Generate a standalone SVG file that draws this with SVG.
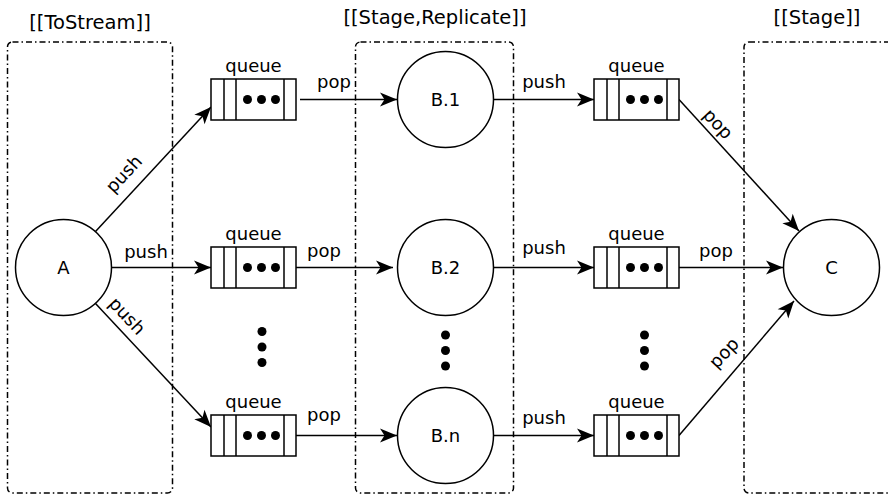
<svg xmlns="http://www.w3.org/2000/svg" width="888" height="496" viewBox="0 0 888 496">
<defs>
<style>
text{font-family:"DejaVu Sans","Liberation Sans",sans-serif;fill:#000;font-size:18px;text-anchor:middle}
.title{font-size:19.5px}
.grp{fill:none;stroke:#000;stroke-width:1.5;stroke-dasharray:6 3 1.5 3}
.node{fill:#fff;stroke:#000;stroke-width:1.5}
.q{fill:#fff;stroke:#000;stroke-width:1.5}
.edge{fill:none;stroke:#000;stroke-width:1.5;marker-end:url(#arr)}
.dot{fill:#000}
</style>
<marker id="arr" markerUnits="userSpaceOnUse" viewBox="-18 -8 19 16" refX="0" refY="0" markerWidth="19" markerHeight="16" orient="auto">
<path d="M0,0 L-17,-7 L-12.5,0 L-17,7 Z" fill="#000"/>
</marker>
<g id="queue">
<rect class="q" x="0" y="0" width="85" height="41"/>
<line x1="13" y1="0" x2="13" y2="41" stroke="#000" stroke-width="1.5"/>
<line x1="25" y1="0" x2="25" y2="41" stroke="#000" stroke-width="1.5"/>
<line x1="73" y1="0" x2="73" y2="41" stroke="#000" stroke-width="1.5"/>
<circle class="dot" cx="36.5" cy="20.5" r="4.5"/>
<circle class="dot" cx="50.5" cy="20.5" r="4.5"/>
<circle class="dot" cx="64.5" cy="20.5" r="4.5"/>
</g>
</defs>
<rect width="888" height="496" fill="#fff"/>

<g id="group-tostream">
<rect class="grp" x="7.5" y="42" width="165" height="451" rx="5"/>
<text class="title" x="90" y="29">[[ToStream]]</text>
</g>
<g id="group-stage-replicate">
<rect class="grp" x="355.5" y="42" width="158" height="451" rx="5"/>
<text class="title" x="435" y="24">[[Stage,Replicate]]</text>
</g>
<g id="group-stage">
<rect class="grp" x="744" y="42" width="200" height="451" rx="5"/>
<text class="title" x="817" y="24">[[Stage]]</text>
</g>

<g id="connectors">
<line class="edge" x1="95.5" y1="231.5" x2="211" y2="107"/>
<line class="edge" x1="111" y1="267.5" x2="211" y2="267.5"/>
<line class="edge" x1="95.5" y1="303.5" x2="211" y2="427"/>
<line class="edge" x1="300" y1="99.5" x2="397" y2="99.5"/>
<line class="edge" x1="296" y1="267.5" x2="393" y2="267.5"/>
<line class="edge" x1="296" y1="435.5" x2="397" y2="435.5"/>
<line class="edge" x1="494" y1="99.5" x2="594" y2="99.5"/>
<line class="edge" x1="494" y1="267.5" x2="594" y2="267.5"/>
<line class="edge" x1="494" y1="435.5" x2="594" y2="435.5"/>
<line class="edge" x1="679" y1="99.5" x2="799" y2="231"/>
<line class="edge" x1="679" y1="267.5" x2="783" y2="267.5"/>
<line class="edge" x1="679" y1="435.5" x2="794" y2="301"/>
<text transform="translate(124,174) rotate(-47)" x="0" y="6">push</text>
<text x="146" y="258">push</text>
<text transform="translate(127,316) rotate(47)" x="0" y="6">push</text>
<text x="334" y="88">pop</text>
<text x="324" y="257">pop</text>
<text x="324" y="421">pop</text>
<text x="544" y="88">push</text>
<text x="544" y="254">push</text>
<text x="544" y="424">push</text>
<text transform="translate(718,124) rotate(47)" x="0" y="6">pop</text>
<text x="716" y="257">pop</text>
<text transform="translate(724,353) rotate(-47)" x="0" y="6">pop</text>
</g>

<g id="node-A">
<circle class="node" cx="63.5" cy="267.5" r="48"/>
<text x="63.5" y="274">A</text>
</g>
<g id="node-q1a"><use href="#queue" x="211" y="79"/><text x="253.5" y="72">queue</text></g>
<g id="node-q2a"><use href="#queue" x="211" y="247"/><text x="253.5" y="240">queue</text></g>
<g id="node-q3a"><use href="#queue" x="211" y="415"/><text x="253.5" y="408">queue</text></g>
<g id="node-dots-a">
<circle class="dot" cx="262" cy="331.5" r="4.5"/>
<circle class="dot" cx="262" cy="347" r="4.5"/>
<circle class="dot" cx="262" cy="362.5" r="4.5"/>
</g>
<g id="node-B1">
<circle class="node" cx="445.5" cy="99.5" r="48"/>
<text x="445.5" y="106">B.1</text>
</g>
<g id="node-B2">
<circle class="node" cx="445.5" cy="267.5" r="48"/>
<text x="445.5" y="274">B.2</text>
</g>
<g id="node-Bn">
<circle class="node" cx="445.5" cy="435.5" r="48"/>
<text x="445.5" y="442">B.n</text>
</g>
<g id="node-dots-b">
<circle class="dot" cx="445.5" cy="335" r="4.5"/>
<circle class="dot" cx="445.5" cy="350.5" r="4.5"/>
<circle class="dot" cx="445.5" cy="366" r="4.5"/>
</g>
<g id="node-q1b"><use href="#queue" x="594" y="79"/><text x="636.5" y="72">queue</text></g>
<g id="node-q2b"><use href="#queue" x="594" y="247"/><text x="636.5" y="240">queue</text></g>
<g id="node-q3b"><use href="#queue" x="594" y="415"/><text x="636.5" y="408">queue</text></g>
<g id="node-dots-c">
<circle class="dot" cx="644.5" cy="335" r="4.5"/>
<circle class="dot" cx="644.5" cy="350.5" r="4.5"/>
<circle class="dot" cx="644.5" cy="366" r="4.5"/>
</g>
<g id="node-C">
<circle class="node" cx="831.5" cy="267.5" r="48"/>
<text x="831.5" y="274">C</text>
</g>
</svg>
